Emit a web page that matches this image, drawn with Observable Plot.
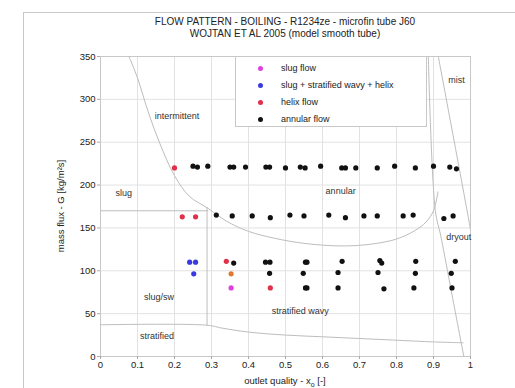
<!DOCTYPE html>
<html>
<head>
<meta charset="utf-8">
<script src="https://cdn.jsdelivr.net/npm/d3@7"></script>
<script src="https://cdn.jsdelivr.net/npm/@observablehq/plot@0.6"></script>
<style>
  html, body { margin: 0; padding: 0; background: #fff; }
  body { width: 515px; height: 388px; overflow: hidden; position: relative; font-family: "Liberation Sans", Arial, sans-serif; color: #222; }
  #frame { position: absolute; left: 23px; top: 12px; width: 600px; height: 500px; border: 1px solid #c8c8c8; box-sizing: border-box; }
  #chart { position: absolute; left: 0; top: 0; }
  .title { position: absolute; left: 100px; width: 370px; text-align: center; font-size: 10px; white-space: nowrap; }
  #xlabel { position: absolute; left: 100px; width: 370px; top: 375px; text-align: center; font-size: 9.5px; }
  #ylabel { position: absolute; left: 60px; top: 206px; transform: translate(-50%, -50%) rotate(-90deg); font-size: 9.5px; white-space: nowrap; }
  #legend { position: absolute; left: 235px; top: 56px; width: 192px; height: 71px; background: #fff; border: 1px solid #c8c8c8; box-sizing: border-box; font-size: 9px; }
  .lrow { position: absolute; left: 0; height: 12px; line-height: 12px; white-space: nowrap; }
  .ldot { position: absolute; left: 22px; top: 4px; width: 5px; height: 5px; border-radius: 50%; }
  .ltxt { position: absolute; left: 45px; top: 0; }
</style>
</head>
<body>
<div id="frame"></div>
<div id="chart"></div>
<div class="title" style="top:16px">FLOW PATTERN - BOILING - R1234ze - microfin tube J60</div>
<div class="title" style="top:28px">WOJTAN ET AL 2005 (model smooth tube)</div>
<div id="xlabel">outlet quality - x<sub style="font-size:7px">o</sub> [-]</div>
<div id="ylabel">mass flux - G [kg/m²s]</div>
<div id="legend"></div>
<script>
// ---- categories / legend ----
const flowTypes = ["slug flow", "slug + stratified wavy + helix", "helix flow", "annular flow"];
const flowColors = ["#e040e0", "#3a3ae0", "#e0304a", "#111111"];

// ---- measured points ----
const slugX = [0.353];
const slugG = [80];
const mixedX = [0.241, 0.257, 0.252];
const mixedG = [110, 110, 96.5];
const helixX = [0.20, 0.221, 0.257, 0.34, 0.459];
const helixG = [220, 163, 163, 111, 80];
const transitionX = [0.353];
const transitionG = [96.5];
const annularX = [
  0.25, 0.262, 0.29, 0.35, 0.36, 0.392, 0.447, 0.457, 0.50, 0.54, 0.553, 0.595, 0.652, 0.662, 0.69, 0.748, 0.795, 0.851, 0.90, 0.944, 0.962,
  0.313, 0.356, 0.41, 0.459, 0.512, 0.55, 0.617, 0.662, 0.712, 0.748, 0.818, 0.845, 0.928, 0.953,
  0.36, 0.446, 0.458, 0.554, 0.558, 0.653, 0.755, 0.76, 0.852, 0.959,
  0.457, 0.548, 0.642, 0.75, 0.851, 0.948,
  0.554, 0.558, 0.642, 0.766, 0.847, 0.95
];
const annularG = [
  222, 221, 222, 221, 221, 221, 221, 221, 220, 221, 220, 222, 220, 220, 220, 220, 222, 220, 222, 221, 219,
  165, 164, 164, 162, 165, 164, 165, 162, 164, 164, 164, 165, 161, 164,
  109, 110, 110, 110, 110, 111, 112, 109, 111, 111,
  97, 97, 98, 98, 97, 97,
  80, 80, 80, 79, 80, 80
];

// ---- map boundaries (Wojtan et al. 2005) ----
const wavyX = [0.077, 0.10, 0.13, 0.16, 0.20, 0.24, 0.29, 0.34, 0.40, 0.47, 0.55, 0.65, 0.73, 0.80, 0.85, 0.88, 0.90, 0.912];
const wavyG = [350, 325, 284, 249, 211, 187, 173, 158, 146, 138, 132, 129, 131, 137, 147, 157, 170, 192];
const slugLineX = [0, 0.29];
const slugLineG = [170, 170];
const iaLineX = [0.288, 0.288];
const iaLineG = [36.5, 174];
const stratX = [0, 0.288, 0.33, 0.40, 0.50, 0.60, 0.70, 0.80, 0.90, 0.98];
const stratG = [37, 36.5, 33, 28.5, 25, 23, 21, 19, 17, 16];
const dryoutX = [0.886, 0.905, 0.92, 0.95, 0.982];
const dryoutG = [350, 170, 140, 72, 0];
const mistX = [0.913, 0.99, 1.0];
const mistG = [350, 172, 148];

// ---- region labels ----
const regionNames = ["intermittent", "slug", "annular", "mist", "dryout", "slug/sw", "stratified", "stratified wavy"];
const regionX = [0.207, 0.063, 0.649, 0.962, 0.968, 0.158, 0.153, 0.54];
const regionG = [280, 191, 193, 322, 139, 69, 24, 53];

// ---- ticks ----
const xTicks = [0, 0.1, 0.2, 0.3, 0.4, 0.5, 0.6, 0.7, 0.8, 0.9, 1];
const yTicks = [0, 50, 100, 150, 200, 250, 300, 350];

const toRows = (xs, gs, type) => xs.map((x, i) => ({x, G: gs[i], type}));
const points = [
  ...toRows(annularX, annularG, "annular flow"),
  ...toRows(mixedX, mixedG, "slug + stratified wavy + helix"),
  ...toRows(helixX, helixG, "helix flow"),
  ...toRows(slugX, slugG, "slug flow"),
  ...toRows(transitionX, transitionG, "transition")
];
const lines = [
  toRows(wavyX, wavyG), toRows(slugLineX, slugLineG), toRows(iaLineX, iaLineG),
  toRows(stratX, stratG), toRows(dryoutX, dryoutG), toRows(mistX, mistG)
];
const regions = regionNames.map((name, i) => ({name, x: regionX[i], G: regionG[i]}));

const chart = Plot.plot({
  width: 515,
  height: 388,
  marginLeft: 100,
  marginRight: 45,
  marginTop: 56,
  marginBottom: 32,
  style: {fontFamily: "Liberation Sans, Arial, sans-serif", fontSize: "9.5px", color: "#222", background: "transparent", overflow: "visible"},
  x: {domain: [0, 1], ticks: xTicks, tickFormat: d => String(d), label: null},
  y: {domain: [0, 350], ticks: yTicks, label: null},
  color: {domain: [...flowTypes, "transition"], range: [...flowColors, "#e07a30"]},
  marks: [
    Plot.frame({fill: "#fff"}),
    Plot.gridX(xTicks, {stroke: "#e2e2e2", strokeOpacity: 1}),
    Plot.gridY(yTicks, {stroke: "#e2e2e2", strokeOpacity: 1}),
    Plot.frame({stroke: "#c8c8c8"}),
    Plot.axisX(xTicks, {tickSize: 3, tickPadding: 2, stroke: "#aaa", fill: "#222", tickFormat: d => String(d)}),
    Plot.axisY(yTicks, {tickSize: 3, tickPadding: 2, stroke: "#aaa", fill: "#222"}),
    ...lines.map(l => Plot.line(l, {x: "x", y: "G", stroke: "#bdbdbd", strokeWidth: 1, curve: "catmull-rom", clip: true})),
    Plot.text(regions, {x: "x", y: "G", text: "name", fill: "#333", fontSize: 9}),
    Plot.dot(points, {x: "x", y: "G", fill: "type", r: 2.6, stroke: "none"})
  ]
});
document.getElementById("chart").appendChild(chart);

// legend built from the categories
const legend = document.getElementById("legend");
const rowTops = [5, 22, 39, 56];
flowTypes.forEach((t, i) => {
  const row = document.createElement("div");
  row.className = "lrow";
  row.style.top = rowTops[i] + "px";
  row.innerHTML = `<span class="ldot" style="background:${flowColors[i]}"></span><span class="ltxt">${t}</span>`;
  legend.appendChild(row);
});
</script>
</body>
</html>
